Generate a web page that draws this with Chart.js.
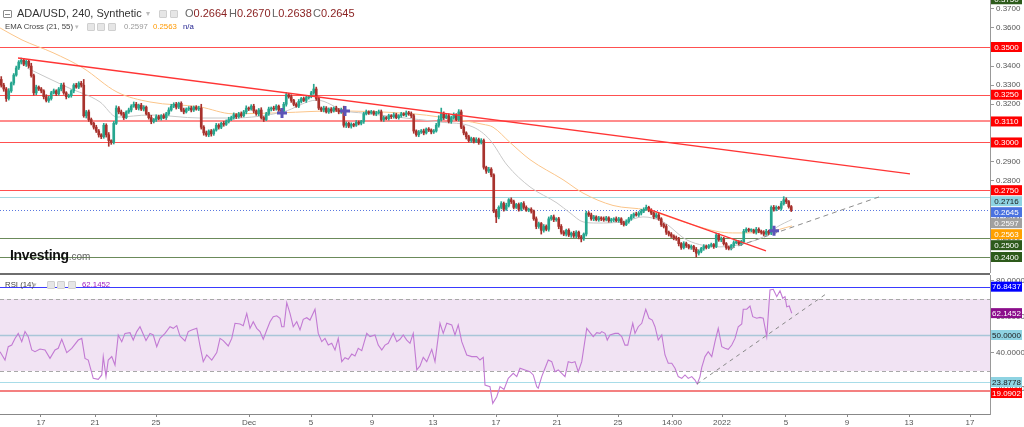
<!DOCTYPE html>
<html><head><meta charset="utf-8">
<script src="https://cdn.jsdelivr.net/npm/chart.js@4.4.1/dist/chart.umd.min.js"></script>
<style>
html,body{margin:0;padding:0;background:#fff;}
body{width:1024px;height:427px;overflow:hidden;position:relative;font-family:"Liberation Sans",Arial,sans-serif;}
canvas{display:block;}
#topWrap{position:absolute;left:0;top:0;width:1024px;height:273px;}
#botWrap{position:absolute;left:0;top:275px;width:1024px;height:152px;}
#sep{position:absolute;left:0;top:273px;width:990px;height:2px;background:#6e6e6e;}
.t{position:absolute;white-space:nowrap;line-height:1;}
.ic{position:absolute;width:6px;height:6px;background:#e6e6e6;border:1px solid #cfcfcf;border-radius:1px;}
</style></head>
<body>
<div id="topWrap"><canvas id="priceCanvas" width="1024" height="273"></canvas></div>
<div id="sep"></div>
<div id="botWrap"><canvas id="rsiCanvas" width="1024" height="152"></canvas></div>

<div style="position:absolute;left:3px;top:10px;width:7px;height:6px;border:1px solid #8a8a8a;border-radius:1px;"><div style="position:absolute;left:1px;top:2.5px;width:5px;height:1px;background:#8a8a8a"></div></div>
<div class="t" style="left:17px;top:8px;font-size:11px;color:#333">ADA/USD, 240, Synthetic</div>
<div class="t" style="left:146px;top:10px;font-size:8px;color:#bbb">▾</div>
<div class="ic" style="left:159px;top:10px"></div>
<div class="ic" style="left:170px;top:10px"></div>
<div class="t" style="left:185px;top:8px;font-size:11px;"><span style="color:#666">O</span><span style="color:#8b2323">0.2664</span></div>
<div class="t" style="left:229px;top:8px;font-size:11px;"><span style="color:#666">H</span><span style="color:#8b2323">0.2670</span></div>
<div class="t" style="left:272px;top:8px;font-size:11px;"><span style="color:#666">L</span><span style="color:#8b2323">0.2638</span></div>
<div class="t" style="left:313px;top:8px;font-size:11px;"><span style="color:#666">C</span><span style="color:#8b2323">0.2645</span></div>

<div class="t" style="left:5px;top:23px;font-size:7.8px;color:#444">EMA Cross (21, 55)</div>
<div class="t" style="left:75px;top:23px;font-size:7px;color:#bbb">▾</div>
<div class="ic" style="left:87px;top:23px"></div>
<div class="ic" style="left:97px;top:23px"></div>
<div class="ic" style="left:108px;top:23px"></div>
<div class="t" style="left:124px;top:23px;font-size:7.8px;color:#999">0.2597</div>
<div class="t" style="left:153px;top:23px;font-size:7.8px;color:#ff9900">0.2563</div>
<div class="t" style="left:183px;top:23px;font-size:7.8px;color:#232390">n/a</div>

<div class="t" style="left:10px;top:248px;font-size:14px;font-weight:bold;color:#111;letter-spacing:-0.3px">Investing<span style="font-weight:normal;font-size:10px;color:#666;letter-spacing:0">.com</span></div>

<div class="t" style="left:5px;top:281px;font-size:7.8px;color:#444">RSI (14)</div>
<div class="t" style="left:33px;top:281px;font-size:7px;color:#bbb">▾</div>
<div class="ic" style="left:47px;top:281px"></div>
<div class="ic" style="left:57px;top:281px"></div>
<div class="ic" style="left:68px;top:281px"></div>
<div class="t" style="left:82px;top:281px;font-size:7.8px;color:#a020c0">62.1452</div>

<script>
// ---------- DATA (prices in units of 0.0001) ----------
const firstOpen = 3330;
const closes = [
3300,3280,3230,3270, 3311,3353,3390,3421,
3430,3410,3425,3400, 3350,3260,3290,3280,
3270,3240,3220,3230, 3260,3270,3255,3280,
3300,3260,3240,3245, 3270,3300,3290,3310,
3300,3140,3160,3120, 3100,3080,3060,3040,
3030,3090,3040,3010, 3000,3100,3180,3160,
3150,3130,3160,3170, 3190,3200,3180,3195,
3175,3185,3150,3130, 3110,3120,3135,3125,
3140,3130,3150,3170, 3190,3200,3185,3205,
3170,3160,3175,3180, 3170,3185,3175,3180,
3080,3050,3040,3060, 3045,3065,3090,3080,
3100,3095,3110,3120, 3130,3145,3135,3150,
3140,3160,3180,3175, 3190,3165,3150,3170,
3130,3120,3150,3175, 3180,3175,3190,3170,
3165,3200,3250,3240, 3220,3200,3190,3215,
3230,3220,3235,3240, 3260,3280,3230,3180,
3170,3180,3160,3175, 3165,3180,3170,3160,
3170,3090,3100,3085, 3095,3090,3105,3100,
3110,3150,3160,3155, 3160,3150,3155,3160,
3120,3130,3125,3140, 3135,3145,3130,3140,
3150,3145,3155,3150, 3140,3060,3040,3055,
3060,3050,3070,3065, 3055,3060,3090,3120,
3150,3130,3140,3110, 3130,3145,3120,3160,
3080,3050,3030,3010, 3020,3005,3015,3000,
3010,2870,2850,2860, 2830,2640,2610,2660,
2680,2650,2670,2700, 2690,2660,2675,2650,
2680,2660,2645,2650, 2640,2600,2560,2575,
2540,2560,2545,2600, 2610,2595,2600,2560,
2530,2520,2540,2515, 2525,2510,2530,2505,
2495,2520,2630,2620, 2600,2610,2595,2605,
2600,2595,2605,2590, 2595,2600,2590,2600,
2580,2570,2585,2600, 2615,2625,2620,2630,
2640,2650,2660,2645, 2630,2610,2620,2600,
2570,2560,2530,2520, 2510,2500,2495,2470,
2450,2470,2460,2450, 2455,2440,2420,2430,
2445,2455,2450,2460, 2465,2455,2515,2490,
2495,2470,2450,2445, 2460,2475,2480,2470,
2480,2535,2545,2540, 2540,2530,2545,2535,
2530,2520,2535,2525, 2660,2650,2660,2655,
2680,2700,2690,2664, 2645
];
const upperWicks = [
15,10,8,12, 6,8,10,8,
12,10,8,6, 15,8,10,6,
8,6,10,12, 8,10,6,8,
10,12,6,8, 6,8,10,8,
10,30,8,10, 8,6,10,8,
6,10,8,12, 4,10,12,8,
10,8,6,10, 8,12,10,6,
10,8,6,8, 12,6,10,8,
6,10,8,12, 10,8,10,6,
8,10,6,8, 10,6,8,10,
20,8,10,6, 8,6,10,8,
6,10,8,12, 8,10,6,8,
10,8,12,6, 8,10,6,8,
12,6,8,10, 6,10,8,6,
8,10,12,8, 10,6,8,10,
6,8,10,6, 8,25,10,8,
6,10,8,6, 8,6,10,8,
10,20,8,6, 8,6,10,8,
6,8,10,6, 8,6,8,10,
10,8,6,8, 6,10,8,6,
8,6,10,8, 10,8,6,8,
8,10,6,8, 6,8,10,20,
30,10,8,10, 8,10,6,12,
10,8,6,8, 8,6,10,8,
10,8,6,10, 8,6,10,8,
10,8,12,6, 10,8,6,8,
6,10,8,6, 8,6,10,8,
6,10,8,10, 8,10,6,8,
10,8,6,8, 6,10,8,6,
8,6,10,8, 10,8,6,8,
6,10,8,6, 8,6,10,8,
6,8,10,8, 8,6,10,8,
10,8,12,6, 8,6,10,8,
6,8,10,6, 8,6,10,8,
6,10,8,6, 8,6,10,8,
6,10,8,6, 8,6,10,8,
10,8,6,8, 6,10,8,6,
8,10,8,6, 8,6,10,8,
6,8,10,6, 8,10,8,6,
12,16,10,6, 6
];
const lowerWicks = [
10,12,15,8, 8,10,6,8,
10,8,12,10, 8,12,10,8,
10,12,8,10, 8,6,10,8,
10,8,12,6, 8,10,6,8,
10,8,12,10, 8,10,8,12,
10,8,12,30, 10,8,6,10,
8,10,6,8, 10,6,8,10,
8,10,6,8, 12,8,10,6,
8,6,10,8, 6,8,10,8,
8,10,6,8, 10,8,6,8,
10,12,8,10, 12,8,6,10,
8,10,6,8, 6,8,10,8,
8,6,10,8, 6,10,8,10,
8,10,6,8, 10,8,6,8,
8,6,10,8, 10,8,6,8,
8,6,10,8, 6,8,10,8,
8,10,6,8, 10,6,8,10,
8,10,12,8, 10,8,6,8,
8,10,6,8, 6,8,10,6,
8,10,6,8, 10,8,6,8,
8,6,10,8, 10,12,8,10,
8,10,6,8, 10,8,6,10,
8,10,6,8, 10,8,6,8,
8,10,12,8, 10,8,6,10,
8,10,12,8, 10,8,30,10,
8,10,6,8, 10,8,6,10,
8,10,6,8, 10,8,12,10,
20,10,8,10, 8,10,8,12,
10,8,10,8, 12,8,10,10,
16,8,10,8, 8,10,6,8,
10,8,6,8, 8,10,6,8,
10,8,6,8, 8,10,6,8,
10,8,6,8, 8,10,6,8,
10,8,12,10, 8,10,8,12,
10,8,10,8, 10,12,20,10,
8,10,8,6, 8,10,6,8,
10,8,10,8, 8,10,6,8,
10,8,6,8, 8,6,10,8,
10,8,6,8, 8,10,8,6,
10,8,10,8, 7
];
// EMA lines [candle index, price]
const emaFastPts = [[10.3,0.3390],[26.3,0.3290],[39.5,0.3212],[46.3,0.3133],[59.5,0.3144],[79.5,0.3128],[92.7,0.3128],[112.7,0.3160],[126.3,0.3222],[137.5,0.3165],[144.7,0.3154],[158.3,0.3133],[175.5,0.3107],[188.7,0.3081],[195.5,0.3013],[202.3,0.2882],[211.5,0.2767],[222.3,0.2683],[227.5,0.2631],[232.7,0.2584],[238.3,0.2578],[248.7,0.2584],[256.7,0.2610],[264.7,0.2584],[274.3,0.2489],[287.5,0.2453],[298.3,0.2474],[306.3,0.2516],[310.3,0.2557],[316.3,0.2597]];
const emaSlowPts = [[-0.5,0.3600],[8.3,0.3537],[20.7,0.3470],[32.7,0.3390],[46.3,0.3264],[59.5,0.3212],[79.5,0.3186],[92.7,0.3150],[112.7,0.3156],[132.7,0.3165],[164.7,0.3150],[175.5,0.3133],[192.7,0.3095],[196.7,0.3080],[203.5,0.3000],[211.5,0.2910],[224.7,0.2805],[232.7,0.2735],[244.7,0.2670],[258.3,0.2646],[274.3,0.2578],[287.5,0.2531],[294.3,0.2526],[306.3,0.2531],[316.3,0.2563]];
const trendMain = [[6.7,0.34424],[363.5,0.28351]];
const trendShort = [[258.7,0.26518],[305.9,0.24319]];
const trendSupport = [[291.5,0.24424],[351.1,0.27147]];
const crossPts = [[112.3,0.3154],[137.5,0.3165],[309.1,0.2537]];
const rsiPts = [[-0.5,40.7],[1.5,36.1],[2.8,43.5],[4.2,44.4],[5.5,48.1],[6.8,50.9],[8.2,46.3],[9.5,51.9],[10.8,49.1],[12.2,41.7],[13.5,40.7],[15.5,42.2],[17.5,41.7],[19.5,37.0],[21.5,41.7],[22.8,42.6],[24.2,47.6],[26.2,40.2],[28.2,42.6],[30.8,47.2],[32.2,48.1],[33.5,37.0],[34.8,36.1],[36.8,25.9],[38.8,25.4],[40.2,27.8],[40.8,38.0],[41.9,26.9],[42.8,36.1],[44.2,38.0],[45.5,33.3],[46.8,50.0],[48.2,46.3],[49.5,50.9],[51.5,51.3],[52.8,47.2],[54.2,51.9],[55.5,54.6],[57.9,46.9],[59.5,50.9],[60.8,50.0],[62.2,43.5],[63.5,48.1],[65.5,50.9],[67.5,54.6],[68.8,53.7],[70.2,55.2],[71.5,49.4],[73.5,46.7],[74.8,51.9],[76.2,52.8],[78.2,53.7],[79.5,43.9],[80.8,35.2],[82.2,38.9],[84.2,36.1],[86.2,40.2],[87.5,48.1],[88.8,46.9],[90.8,43.9],[92.2,48.1],[93.5,56.5],[95.5,56.1],[96.8,55.2],[98.2,62.0],[99.5,53.7],[100.8,57.4],[102.2,53.7],[103.5,51.9],[104.8,47.6],[106.2,52.8],[107.5,57.4],[108.8,60.2],[110.2,60.7],[111.5,59.3],[112.2,54.6],[113.1,54.6],[114.2,68.0],[115.5,62.0],[116.8,54.6],[118.2,57.4],[119.5,52.8],[120.8,58.7],[122.2,59.6],[123.5,58.3],[125.5,64.3],[126.8,50.9],[128.2,46.3],[129.5,48.1],[130.8,44.4],[132.2,45.4],[133.5,41.7],[134.8,48.1],[136.2,35.2],[137.5,37.4],[138.8,36.5],[140.2,39.4],[141.5,38.3],[142.8,42.6],[144.2,41.3],[146.2,50.9],[147.5,49.1],[149.5,50.0],[150.8,44.4],[152.2,41.7],[153.5,44.4],[154.8,45.4],[156.8,50.9],[158.2,46.3],[159.5,47.6],[160.8,50.0],[162.2,47.2],[163.5,45.4],[164.8,50.9],[166.2,30.6],[167.5,32.8],[168.8,37.6],[170.2,35.2],[172.2,42.0],[173.5,35.2],[175.5,56.5],[176.8,50.9],[178.2,56.5],[180.2,55.6],[181.5,50.0],[182.8,55.6],[184.2,46.3],[186.2,38.9],[188.2,38.0],[190.2,38.0],[191.5,36.1],[192.8,37.6],[193.5,22.2],[195.5,21.3],[196.6,12.0],[198.2,15.7],[199.5,21.3],[201.1,19.8],[202.8,25.9],[204.8,28.7],[206.2,26.9],[207.5,31.5],[209.5,30.6],[211.5,29.6],[212.8,27.8],[214.2,21.3],[214.8,20.4],[216.2,26.9],[217.5,31.5],[218.8,36.1],[220.2,35.2],[221.5,29.6],[222.8,30.6],[224.2,28.7],[225.5,26.9],[226.8,35.2],[228.2,34.6],[229.5,35.2],[230.8,29.6],[232.2,35.2],[234.2,53.7],[235.5,51.3],[236.8,49.1],[238.2,51.3],[239.5,50.9],[240.2,51.9],[241.5,50.9],[242.4,47.2],[243.5,50.0],[245.5,50.9],[246.8,50.9],[248.2,49.1],[249.5,44.4],[250.6,44.4],[251.5,50.0],[252.6,56.5],[253.5,50.9],[254.8,54.6],[256.2,56.5],[257.8,64.3],[259.1,59.3],[260.4,58.3],[261.5,54.6],[262.8,47.2],[264.2,50.0],[265.5,38.9],[266.8,34.3],[268.2,34.3],[269.5,31.5],[270.8,26.9],[272.2,25.9],[273.5,27.8],[274.8,25.9],[276.2,26.9],[277.5,25.0],[278.4,22.8],[279.5,26.9],[280.2,32.0],[281.5,38.0],[282.8,40.7],[284.2,38.0],[285.5,46.3],[286.8,53.7],[288.2,43.5],[289.5,42.6],[290.8,42.0],[292.2,44.4],[293.5,48.1],[294.8,54.6],[296.2,56.1],[296.8,64.3],[298.2,64.3],[299.5,66.1],[300.6,60.2],[302.2,59.3],[303.5,59.8],[304.8,59.3],[306.2,49.1],[307.5,75.0],[308.8,75.4],[310.2,71.3],[311.5,74.6],[312.6,70.4],[313.5,71.3],[314.2,65.7],[315.2,66.1],[316.2,62.1]];
const rsiTrend = [[278.3,22.8],[329.9,72.8]];
const tickPos = [15.9,37.5,61.9,99.1,123.9,148.3,172.7,197.9,222.3,246.7,268.3,288.3,313.9,338.3,363.1,387.5];
const tickLabels = ['17','21','25','Dec','5','9','13','17','21','25','14:00','2022','5','9','13','17'];
const priceTicks = [0.24,0.25,0.26,0.27,0.28,0.29,0.30,0.31,0.32,0.33,0.34,0.35,0.36,0.37];
const rsiTicks = [20,40,60,80];
const priceLevels = [0.3750,0.3500,0.3250,0.3110,0.3000,0.2750,0.2716,0.2645,0.2597,0.2563,0.2500,0.2400];
const rsiLevels = [76.8437,62.1452,50.0000,23.8778,19.0902];
const rsiBand = [30,70];

// ---------- STYLES ----------
const UP = '#26a68f', DOWN = '#a8322d';
const priceLevelStyle = [
 {line:null, box:'#2d5a1b', text:'#fff'},
 {line:'#ff5050', w:1, box:'#ff0000', text:'#fff'},
 {line:'#ff5050', w:1, box:'#ff0000', text:'#fff'},
 {line:'#ff8c8c', w:2, box:'#ff0000', text:'#fff'},
 {line:'#ff5050', w:1, box:'#ff0000', text:'#fff'},
 {line:'#ff5050', w:1, box:'#ff0000', text:'#fff'},
 {line:'#a3d9e2', w:1, box:'#8ed3e2', text:'#1a1a1a'},
 {line:'#5a78e0', w:1, dash:[1,2], box:'#4a72e0', text:'#fff'},
 {line:null, box:'#a0a0a0', text:'#fff'},
 {line:null, box:'#ffa000', text:'#fff'},
 {line:'#6b8a5a', w:1, box:'#2d5a1b', text:'#fff'},
 {line:'#6b8a5a', w:1, box:'#2d5a1b', text:'#fff'}
];
const rsiLevelStyle = [
 {line:'#3a3aff', w:1, box:'#0000ff', text:'#fff'},
 {line:null, box:'#8b0d8b', text:'#fff'},
 {line:'#a9c6d8', w:1.5, box:'#8ed3e2', text:'#1a1a1a'},
 {line:'#a8dce8', w:1, box:'#8ed3e2', text:'#1a1a1a'},
 {line:'#f48080', w:2, box:'#ff0000', text:'#fff'}
];
const FONT = '"Liberation Sans", Arial, sans-serif';

// ---------- BUILD ----------
const wickData = [], bodyData = [], candleColors = [];
let prev = firstOpen;
closes.forEach((c, i) => {
  const o = prev;
  const hi = Math.max(o, c) + (upperWicks[i] ?? 0);
  const lo = Math.min(o, c) - (lowerWicks[i] ?? 0);
  wickData.push({x: i, y: [lo / 1e4, hi / 1e4]});
  bodyData.push({x: i, y: [o / 1e4, c / 1e4]});
  candleColors.push(c >= o ? UP : DOWN);
  prev = c;
});
const toXY = arr => arr.map(p => ({x: p[0], y: p[1]}));

function drawLevelLines(chart, values, styles) {
  const {ctx, chartArea: a, scales: {y}} = chart;
  values.forEach((v, i) => {
    const s = styles[i];
    if (!s.line) return;
    const p = y.getPixelForValue(v);
    ctx.save();
    ctx.strokeStyle = s.line; ctx.lineWidth = s.w;
    ctx.setLineDash(s.dash || []);
    ctx.beginPath();
    const yy = s.w % 2 ? Math.round(p) + 0.5 : Math.round(p);
    ctx.moveTo(a.left, yy); ctx.lineTo(a.right, yy); ctx.stroke();
    ctx.restore();
  });
}
function drawBoxes(chart, values, styles) {
  const {ctx, chartArea: a, scales: {y}} = chart;
  const items = values.map((v, i) => ({v, y: y.getPixelForValue(v), s: styles[i]})).sort((p, q) => p.y - q.y);
  let lastBottom = -1e9;
  const h = 10, x0 = a.right + 1, w = 31;
  ctx.save();
  ctx.font = '8px ' + FONT; ctx.textAlign = 'center'; ctx.textBaseline = 'middle';
  items.forEach(it => {
    let top = it.y - h / 2;
    if (top < lastBottom + 1) top = lastBottom + 1;
    ctx.fillStyle = it.s.box; ctx.fillRect(x0, top, w, h);
    ctx.fillStyle = it.s.text; ctx.fillText(it.v.toFixed(4), x0 + w / 2, top + h / 2 + 0.5);
    lastBottom = top + h;
  });
  ctx.restore();
}
const pricePlugin = {
  id: 'priceOverlay',
  beforeDatasetsDraw(chart) { drawLevelLines(chart, priceLevels, priceLevelStyle); },
  afterDraw(chart) { drawBoxes(chart, priceLevels, priceLevelStyle); }
};
const rsiPlugin = {
  id: 'rsiOverlay',
  beforeDatasetsDraw(chart) {
    const {ctx, chartArea: a, scales: {y}} = chart;
    const yt = y.getPixelForValue(rsiBand[1]), yb = y.getPixelForValue(rsiBand[0]);
    ctx.save();
    ctx.fillStyle = '#f1e3f3'; ctx.fillRect(a.left, yt, a.right - a.left, yb - yt);
    ctx.strokeStyle = '#a8a8a8'; ctx.lineWidth = 1; ctx.setLineDash([4, 3]);
    [yt, yb].forEach(p => { ctx.beginPath(); ctx.moveTo(a.left, Math.round(p) + 0.5); ctx.lineTo(a.right, Math.round(p) + 0.5); ctx.stroke(); });
    ctx.restore();
    drawLevelLines(chart, rsiLevels, rsiLevelStyle);
  },
  afterDraw(chart) { drawBoxes(chart, rsiLevels, rsiLevelStyle); }
};

const xBase = {type: 'linear', min: -0.5, max: 395.5, offset: false};
const yAxisCommon = {
  position: 'right',
  afterFit(s) { s.width = 34; s.paddingTop = 0; s.paddingBottom = 0; },
  grid: {drawOnChartArea: false, tickLength: 4, color: '#999'},
  border: {color: '#999'}
};

new Chart(document.getElementById('priceCanvas'), {
  type: 'bar',
  data: {datasets: [
    {type: 'line', data: toXY(emaSlowPts), borderColor: '#fbc58a', borderWidth: 1, pointRadius: 0, cubicInterpolationMode: 'monotone', order: 6},
    {type: 'line', data: toXY(emaFastPts), borderColor: '#c8c8c8', borderWidth: 1, pointRadius: 0, cubicInterpolationMode: 'monotone', order: 5},
    {type: 'bar', data: wickData, backgroundColor: candleColors, barThickness: 1, grouped: false, order: 4},
    {type: 'bar', data: bodyData, backgroundColor: candleColors, barThickness: 2, minBarLength: 1, grouped: false, order: 3},
    {type: 'line', data: toXY(trendMain), borderColor: '#ff3535', borderWidth: 1.3, pointRadius: 0, order: 2},
    {type: 'line', data: toXY(trendShort), borderColor: '#ff3535', borderWidth: 1.3, pointRadius: 0, order: 2},
    {type: 'line', data: toXY(trendSupport), borderColor: '#8c8c8c', borderWidth: 1, borderDash: [5, 4], pointRadius: 0, order: 2},
    {type: 'line', data: toXY(crossPts), showLine: false, pointStyle: 'cross', pointRadius: 5, pointBorderWidth: 3, pointBorderColor: '#5c55b8', borderColor: '#5c55b8', order: 1}
  ]},
  options: {
    responsive: false, animation: false, events: [],
    layout: {padding: 0, autoPadding: false},
    plugins: {legend: {display: false}, tooltip: {enabled: false}},
    scales: {
      x: {...xBase, display: false},
      y: {...yAxisCommon, min: 0.23162, max: 0.37462,
        afterBuildTicks(s) { s.ticks = priceTicks.map(v => ({value: v})); },
        ticks: {autoSkip: false, padding: 2, color: '#555', font: {size: 8, family: FONT}, callback: v => Number(v).toFixed(4)}}
    }
  },
  plugins: [pricePlugin]
});

new Chart(document.getElementById('rsiCanvas'), {
  type: 'line',
  data: {datasets: [
    {data: toXY(rsiPts), borderColor: '#c27ad3', borderWidth: 1.1, pointRadius: 0, order: 2},
    {data: toXY(rsiTrend), borderColor: '#8a8a8a', borderWidth: 1, borderDash: [4, 4], pointRadius: 0, order: 1}
  ]},
  options: {
    responsive: false, animation: false, events: [],
    layout: {padding: 0, autoPadding: false},
    plugins: {legend: {display: false}, tooltip: {enabled: false}},
    scales: {
      x: {...xBase,
        afterFit(s) { s.height = 13; s.paddingLeft = 0; s.paddingRight = 0; },
        afterBuildTicks(s) { s.ticks = tickPos.map(v => ({value: v})); },
        ticks: {autoSkip: false, maxRotation: 0, padding: 1, color: '#555', font: {size: 8, family: FONT}, callback: (v, i) => tickLabels[i]},
        grid: {drawOnChartArea: false, tickLength: 3, color: '#888'},
        border: {color: '#888'}},
      y: {...yAxisCommon, min: 6.11, max: 83.33,
        afterBuildTicks(s) { s.ticks = rsiTicks.map(v => ({value: v})); },
        ticks: {autoSkip: false, padding: 2, color: '#555', font: {size: 8, family: FONT}, callback: v => Number(v).toFixed(4)}}
    }
  },
  plugins: [rsiPlugin]
});
</script>
</body></html>
